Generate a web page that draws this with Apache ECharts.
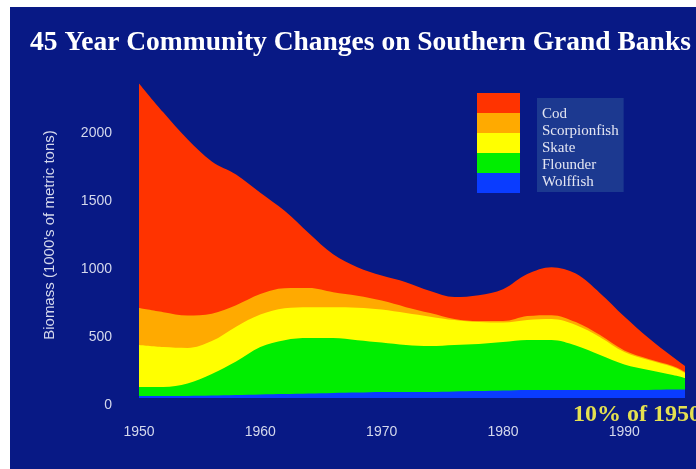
<!DOCTYPE html>
<html>
<head>
<meta charset="utf-8">
<script src="https://cdn.jsdelivr.net/npm/echarts@6/dist/echarts.min.js"></script>
<style>
  html, body { margin: 0; padding: 0; background: #ffffff; width: 696px; height: 469px; overflow: hidden; }
  #chart { position: absolute; left: 10px; top: 7px; width: 686px; height: 462px; background: #081985; }
</style>
</head>
<body>
<div id="chart"></div>
<script>
// Data (biomass, 1000's of metric tons)
const years        = [1950, 1952, 1954, 1956, 1958, 1960, 1962, 1964, 1966, 1968, 1970, 1972, 1974, 1976, 1978, 1980, 1982, 1984, 1986, 1988, 1990, 1992, 1994, 1995];
const wolffish     = [15, 15, 15, 18, 22, 26, 29, 33, 37, 40, 44, 44, 44, 48, 51, 55, 59, 59, 59, 59, 59, 59, 62, 62];
const flounder     = [66, 66, 92, 158, 246, 349, 397, 408, 404, 386, 364, 346, 338, 342, 346, 357, 368, 368, 327, 257, 188, 147, 107, 85];
const skate        = [309, 294, 261, 243, 257, 239, 235, 228, 228, 239, 243, 235, 217, 184, 162, 143, 147, 154, 151, 132, 92, 74, 59, 37];
const scorpionfish = [272, 257, 239, 202, 158, 151, 147, 140, 110, 88, 66, 44, 26, 7, 7, 11, 29, 29, 22, 15, 11, 7, 7, 7];
const cod          = [1654, 1471, 1298, 1121, 963, 746, 570, 404, 279, 210, 184, 184, 162, 162, 191, 235, 309, 353, 357, 309, 250, 154, 66, 44];
const yTicks = [0, 500, 1000, 1500, 2000];
const xTicks = [1950, 1960, 1970, 1980, 1990];

// bottom-to-top stacking order
const names  = ['Wolffish', 'Flounder', 'Skate', 'Scorpionfish', 'Cod'];
const values = [wolffish, flounder, skate, scorpionfish, cod];
const colors = ['#0a3cff', '#00ee00', '#ffff00', '#ffaa00', '#ff3300'];

// cumulative (stacked) totals, since the x axis is numeric
const cumulative = [];
values.forEach((arr, i) => {
  cumulative.push(arr.map((v, k) => v + (i > 0 ? cumulative[i - 1][k] : 0)));
});

const chart = echarts.init(document.getElementById('chart'));

// the tallest (top) layer sits at the back; each lower layer paints over it
const series = names.map((n, i) => ({
  name: n,
  type: 'line',
  smooth: 0.35,
  symbol: 'none',
  z: 10 - i,
  color: colors[i],
  itemStyle: { color: colors[i] },
  lineStyle: { width: 0, color: colors[i] },
  areaStyle: { color: colors[i], opacity: 1 },
  emphasis: { disabled: true },
  data: years.map((y, k) => [y, cumulative[i][k]])
})).reverse();

const legendOrder = ['Cod', 'Scorpionfish', 'Skate', 'Flounder', 'Wolffish'];

chart.setOption({
  animation: false,
  backgroundColor: '#081985',
  title: {
    text: '45 Year Community Changes on Southern Grand Banks',
    left: 20,
    top: 22,
    padding: 0,
    textStyle: { color: '#ffffff', fontFamily: '"Liberation Serif", "Times New Roman", serif', fontWeight: 'bold', fontSize: 27.5 }
  },
  legend: [
    {
      data: legendOrder,
      orient: 'vertical',
      left: 467,
      top: 86,
      padding: 0,
      itemGap: 0,
      itemWidth: 43,
      itemHeight: 20,
      icon: 'rect',
      selectedMode: false,
      formatter: () => '',
      textStyle: { fontSize: 1 }
    },
    {
      data: legendOrder,
      orient: 'vertical',
      left: 527,
      top: 91,
      padding: [8, 5, 1, 0],
      itemGap: 0,
      itemWidth: 0,
      itemHeight: 17,
      icon: 'rect',
      selectedMode: false,
      backgroundColor: '#1c3990',
      textStyle: { color: '#e4e6f2', fontFamily: '"Liberation Serif", "Times New Roman", serif', fontSize: 15, lineHeight: 17 }
    }
  ],
  grid: { left: 129, right: 11, top: 65, bottom: 71 },
  xAxis: {
    type: 'value',
    min: 1950,
    max: 1995,
    interval: 10,
    axisLine: { show: false },
    axisTick: { show: false },
    splitLine: { show: false },
    axisLabel: {
      color: '#d4d8ec',
      fontFamily: '"Liberation Sans", Arial, sans-serif',
      fontSize: 14,
      margin: 27,
      showMaxLabel: false,
      formatter: v => (xTicks.indexOf(v) >= 0 ? String(v) : '')
    }
  },
  yAxis: {
    type: 'value',
    min: 0,
    max: 2400,
    interval: 500,
    name: "Biomass (1000's of metric tons)",
    nameLocation: 'middle',
    nameGap: 82,
    nameTextStyle: { color: '#d4d8ec', fontFamily: '"Liberation Sans", Arial, sans-serif', fontSize: 15 },
    axisLine: { show: false },
    axisTick: { show: false },
    splitLine: { show: false },
    axisLabel: {
      color: '#d4d8ec',
      fontFamily: '"Liberation Sans", Arial, sans-serif',
      fontSize: 14,
      margin: 27,
      verticalAlign: 'top',
      showMaxLabel: false,
      formatter: v => (yTicks.indexOf(v) >= 0 ? String(v) : '')
    }
  },
  graphic: [
    {
      type: 'text',
      x: 563,
      y: 396,
      z: 100,
      style: {
        text: '10% of 1950',
        font: 'bold 24px "Liberation Serif", "Times New Roman", serif',
        fill: '#e4e050',
        textVerticalAlign: 'top'
      }
    }
  ],
  series: series
});
</script>
</body>
</html>
